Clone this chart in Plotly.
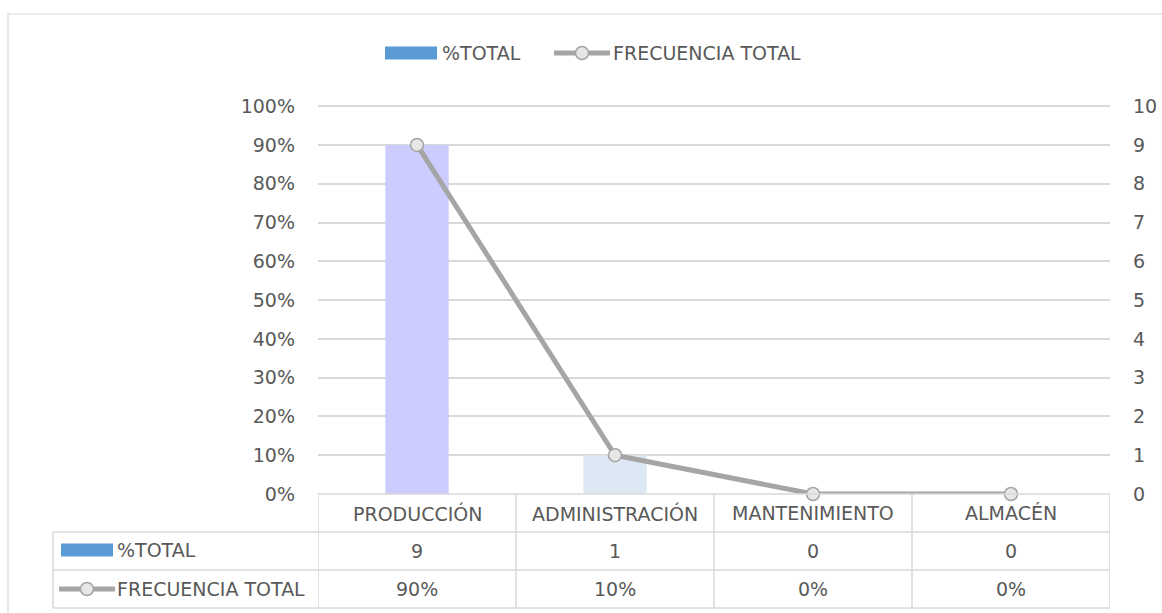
import plotly.graph_objects as go

categories = ["PRODUCCIÓN", "ADMINISTRACIÓN", "MANTENIMIENTO", "ALMACÉN"]
pct_total = [0.90, 0.10, 0.0, 0.0]
frecuencia = [9, 1, 0, 0]
bar_colors = ["#CCCCFF", "#DDE8F5", "#DDE8F5", "#DDE8F5"]
series_names = ["%TOTAL", "FRECUENCIA TOTAL"]
y1_ticks = [i / 10 for i in range(11)]
y2_ticks = list(range(11))

W, H = 1162, 613
L, R, T, B = 318, 1110, 105, 494
FONT = "DejaVu Sans"
TXT = "#595959"
GRID = "#D9D9D9"
LINE = "#A5A5A5"
MFILL = "#E7E6E6"
FS = 19


def px(xp):
    return (xp - L) / (R - L)


def py(yp):
    return (B - yp) / (B - T)


fig = go.Figure()
fig.add_trace(go.Bar(x=categories, y=pct_total, marker=dict(color=bar_colors, line=dict(width=0)),
                     name=series_names[0], showlegend=False, yaxis="y"))
fig.add_trace(go.Scatter(x=categories, y=frecuencia, mode="lines+markers", name=series_names[1],
                         line=dict(color=LINE, width=5),
                         marker=dict(symbol="circle", size=13, color=MFILL, line=dict(color=LINE, width=1.5)),
                         showlegend=False, yaxis="y2", cliponaxis=False))

shapes = []
annotations = []

# outer chart border
shapes.append(dict(type="rect", xref="paper", yref="paper", x0=px(8), x1=px(1175), y0=py(14), y1=py(625),
                   line=dict(color=GRID, width=1.2), fillcolor="rgba(0,0,0,0)", layer="below"))

# data table lines
n = len(categories)
for i in range(n + 1):
    shapes.append(dict(type="line", xref="x", yref="paper", x0=i - 0.5, x1=i - 0.5, y0=py(494), y1=py(608),
                       line=dict(color=GRID, width=1.5)))
for yy in [532, 570, 608]:
    shapes.append(dict(type="line", xref="paper", yref="paper", x0=px(53), x1=1, y0=py(yy), y1=py(yy),
                       line=dict(color=GRID, width=1.5)))
shapes.append(dict(type="line", xref="paper", yref="paper", x0=0, x1=1, y0=0, y1=0,
                   line=dict(color=GRID, width=1.5)))
shapes.append(dict(type="line", xref="paper", yref="paper", x0=px(53), x1=px(53), y0=py(532), y1=py(608),
                   line=dict(color=GRID, width=1.5)))

row1 = [str(v) for v in frecuencia]
row2 = [f"{round(v * 100)}%" for v in pct_total]
for i, c in enumerate(categories):
    annotations.append(dict(x=c, xref="x", y=py(513), yref="paper", text=c, showarrow=False,
                            font=dict(family=FONT, size=FS, color=TXT), xanchor="center", yanchor="middle"))
    annotations.append(dict(x=c, xref="x", y=py(551), yref="paper", text=row1[i], showarrow=False,
                            font=dict(family=FONT, size=FS, color=TXT), xanchor="center", yanchor="middle"))
    annotations.append(dict(x=c, xref="x", y=py(589), yref="paper", text=row2[i], showarrow=False,
                            font=dict(family=FONT, size=FS, color=TXT), xanchor="center", yanchor="middle"))


def bar_key(x0, x1, yc, h=13):
    shapes.append(dict(type="rect", xref="paper", yref="paper", x0=px(x0), x1=px(x1),
                       y0=py(yc + h / 2), y1=py(yc - h / 2), fillcolor="#5B9BD5", line=dict(width=0)))


def line_key(x0, x1, yc, r=6.5):
    shapes.append(dict(type="line", xref="paper", yref="paper", x0=px(x0), x1=px(x1), y0=py(yc), y1=py(yc),
                       line=dict(color=LINE, width=5)))
    xc = (x0 + x1) / 2
    shapes.append(dict(type="circle", xref="paper", yref="paper", x0=px(xc - r), x1=px(xc + r),
                       y0=py(yc + r), y1=py(yc - r), fillcolor=MFILL, line=dict(color=LINE, width=1.5)))


def label(xl, yc, text):
    annotations.append(dict(x=px(xl), xref="paper", y=py(yc), yref="paper", text=text, showarrow=False,
                            font=dict(family=FONT, size=FS, color=TXT), xanchor="left", yanchor="middle"))


# top legend
bar_key(385, 437, 53)
label(440, 53, series_names[0])
line_key(554, 610, 53)
label(611, 53, series_names[1])
# table legend keys
bar_key(61, 113, 550)
label(115, 550, series_names[0])
line_key(59, 115, 589)
label(115, 589, series_names[1])

fig.update_layout(
    width=W, height=H,
    margin=dict(l=L, r=W - R, t=T, b=H - B, pad=0, autoexpand=False),
    paper_bgcolor="white", plot_bgcolor="white",
    bargap=0.68,
    showlegend=False,
    shapes=shapes, annotations=annotations,
    xaxis=dict(type="category", showticklabels=False, showgrid=False, zeroline=False, showline=False,
               range=[-0.5, n - 0.5], fixedrange=True, automargin=False),
    yaxis=dict(range=[0, 1.003], tickvals=y1_ticks, tickformat=".0%", showgrid=True, gridcolor=GRID, gridwidth=1.5,
               zeroline=False, showline=False, ticks="", ticklabelstandoff=22, automargin=False,
               tickfont=dict(family=FONT, size=FS, color=TXT)),
    yaxis2=dict(range=[0, 10.03], tickvals=y2_ticks, overlaying="y", side="right", showgrid=False, zeroline=False,
                showline=False, ticks="", ticklabelstandoff=22, automargin=False,
                tickfont=dict(family=FONT, size=FS, color=TXT)),
)

fig.write_html("out.html", config={"displayModeBar": False},
               post_script="document.body.style.margin='0';document.body.style.overflow='hidden';")
